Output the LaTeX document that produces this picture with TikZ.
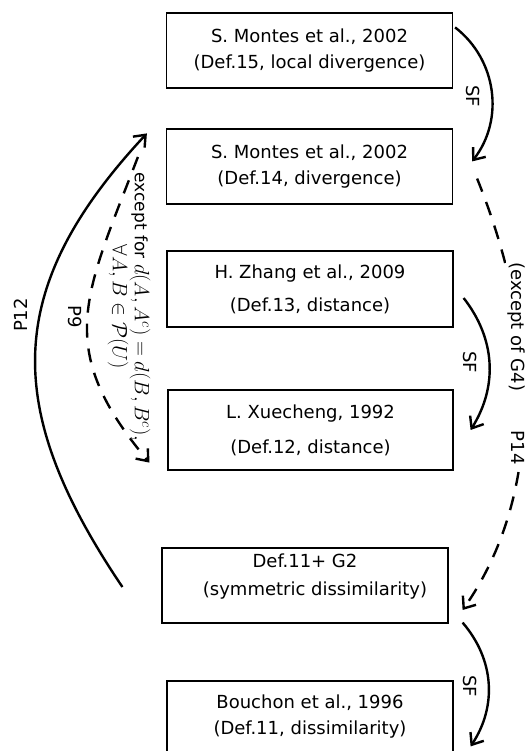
\documentclass[tikz,border=0pt]{standalone}
\usepackage[no-math]{fontspec}
\setmainfont{DejaVu Sans}
\usepackage{amsmath,amssymb}
\usetikzlibrary{arrows.meta,positioning}

\begin{document}
\begin{tikzpicture}[x=1pt, y=1pt,
    every node/.style={font=\fontsize{18}{26}\selectfont},
    defbox/.style={draw, line width=1.2pt, minimum width=286pt, minimum height=75pt, align=center, inner sep=0pt},
    sfarc/.style={line width=2.4pt, -{Straight Barb[length=10pt,width=16pt]}},
    parc/.style={line width=2.4pt, dash pattern=on 14pt off 11pt, -{Straight Barb[length=10pt,width=16pt]}}]

\useasboundingbox (0,0) rectangle (529,751);

% Definitions, top to bottom
\node[defbox] (montesA) at (309.5,700.5) {S. Montes et al., 2002\\(Def.15, local divergence)};
\node[defbox] (montesB) at (309.5,584.5) {S. Montes et al., 2002\\(Def.14, divergence)};
\node[defbox, minimum height=76pt] (zhang) at (310,462) {H. Zhang et al., 2009\\[7pt](Def.13, distance)};
\node[defbox, minimum height=80pt, minimum width=285pt] (xue) at (310.5,321) {L. Xuecheng, 1992\\[9pt](Def.12, distance)};
% text sits a little high in this one
\node[defbox] (symm) at (305,165.5) {Def.11+ G2\\[2pt]\hspace*{20pt}(symmetric dissimilarity)\rule[-21pt]{0pt}{1pt}};
\node[defbox, minimum height=72pt] (bouchon) at (310,34) {Bouchon et al., 1996\\(Def.11, dissimilarity)};

% SF links on the right
\draw[sfarc] ([xshift=2pt,yshift=-15pt]montesA.north east) to[bend left=45] ([xshift=19pt,yshift=-33pt]montesB.north east);
\draw[sfarc] ([xshift=10pt,yshift=-9pt]zhang.east) to[bend left=35] ([xshift=17pt]xue.east);
\draw[sfarc] ([xshift=14pt,yshift=1pt]symm.south east) to[bend left=37] ([xshift=17pt,yshift=-66pt]bouchon.north east);
\node[rotate=-90] (sfA) at (473,655) {SF};
\node[rotate=-90] (sfB) at (470,389) {SF};
\node[rotate=-90] (sfC) at (470,65) {SF};

% P14 (dashed, right)
\draw[parc] ([xshift=24pt,yshift=26pt]montesB.south east) to[out=-68, in=55, looseness=0.9] ([xshift=14pt,yshift=-24.5pt]symm.east);
\node[rotate=-90, fill=white, inner sep=1pt] (p14) at (516,387.5) {(except of G4)\hspace{2.2em}P14};

% P12 and P9 on the left
\draw[sfarc] ([xshift=-39pt,yshift=-1.5pt]symm.west) to[out=124, in=-133, looseness=1.2] ([xshift=-19pt,yshift=-5pt]montesB.north west);
\node[rotate=90] (p12) at (21,436) {P12};

\draw[parc] ([xshift=-28pt,yshift=9.5pt]montesB.west) to[out=-111, in=130, looseness=1.25] ([xshift=-18pt,yshift=8pt]xue.south west);
\node[rotate=-90] (p9) at (75,434) {P9};
\node[rotate=-90, align=center, font=\fontsize{17}{22}\selectfont] (cond) at (129,444)
    {except for {\fontsize{21}{22}\selectfont$d(A,A^c) = d(B,B^c),$}\\{\fontsize{21}{22}\selectfont$\forall A,B \in \mathcal{P}(U)$}};

\end{tikzpicture}
\end{document}
